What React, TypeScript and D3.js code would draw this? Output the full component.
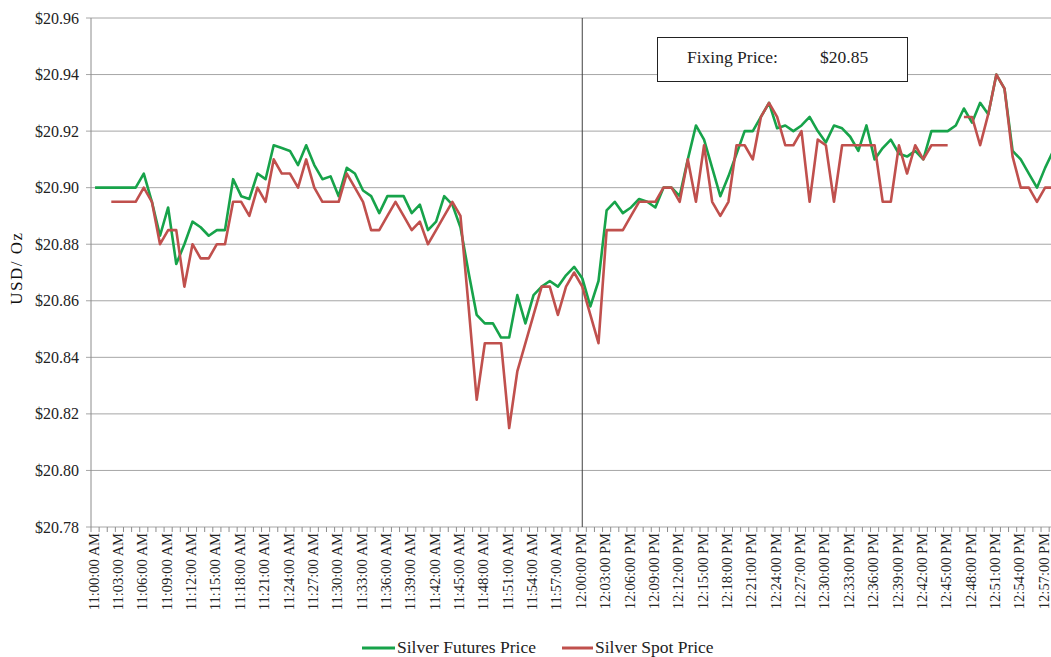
import React from "react";
import * as d3 from "d3";

// ---- Data ----
const startTime = "11:00";
const endTime = "12:58";
const tickEvery = 3;
const yTicks = [20.78, 20.8, 20.82, 20.84, 20.86, 20.88, 20.9, 20.92, 20.94, 20.96];
const fixingLabel = "Fixing Price:";
const fixingValue = "$20.85";
const seriesNames = ["Silver Futures Price", "Silver Spot Price"];

const futures: (number | null)[] = [
  20.9, 20.9, 20.9, 20.9, 20.9, 20.9, 20.905, 20.895, 20.883, 20.893,
  20.873, 20.88, 20.888, 20.886, 20.883, 20.885, 20.885, 20.903, 20.897, 20.896,
  20.905, 20.903, 20.915, 20.914, 20.913, 20.908, 20.915, 20.908, 20.903, 20.904,
  20.897, 20.907, 20.905, 20.899, 20.897, 20.891, 20.897, 20.897, 20.897, 20.891,
  20.894, 20.885, 20.888, 20.897, 20.894, 20.886, 20.87, 20.855, 20.852, 20.852,
  20.847, 20.847, 20.862, 20.852, 20.862, 20.865, 20.867, 20.865, 20.869, 20.872,
  20.868, 20.858, 20.867, 20.892, 20.895, 20.891, 20.893, 20.896, 20.895, 20.893,
  20.9, 20.9, 20.897, 20.91, 20.922, 20.917, 20.907, 20.897, 20.904, 20.912,
  20.92, 20.92, 20.925, 20.93, 20.921, 20.922, 20.92, 20.922, 20.925, 20.92,
  20.916, 20.922, 20.921, 20.918, 20.913, 20.922, 20.91, 20.914, 20.917, 20.912,
  20.911, 20.913, 20.91, 20.92, 20.92, 20.92, 20.922, 20.928, 20.923, 20.93,
  20.926, 20.94, 20.935, 20.913, 20.91, 20.905, 20.9, 20.907, 20.913,
];

const spot: (number | null)[] = [
  null, null, 20.895, 20.895, 20.895, 20.895, 20.9, 20.895, 20.88, 20.885,
  20.885, 20.865, 20.88, 20.875, 20.875, 20.88, 20.88, 20.895, 20.895, 20.89,
  20.9, 20.895, 20.91, 20.905, 20.905, 20.9, 20.91, 20.9, 20.895, 20.895,
  20.895, 20.905, 20.9, 20.895, 20.885, 20.885, 20.89, 20.895, 20.89, 20.885,
  20.888, 20.88, 20.885, 20.89, 20.895, 20.89, 20.858, 20.825, 20.845, 20.845,
  20.845, 20.815, 20.835, 20.845, 20.855, 20.865, 20.865, 20.855, 20.865, 20.87,
  20.865, 20.855, 20.845, 20.885, 20.885, 20.885, 20.89, 20.895, 20.895, 20.895,
  20.9, 20.9, 20.895, 20.91, 20.895, 20.915, 20.895, 20.89, 20.895, 20.915,
  20.915, 20.91, 20.925, 20.93, 20.925, 20.915, 20.915, 20.92, 20.895, 20.917,
  20.915, 20.895, 20.915, 20.915, 20.915, 20.915, 20.915, 20.895, 20.895, 20.915,
  20.905, 20.915, 20.91, 20.915, 20.915, 20.915, null, 20.925, 20.925, 20.915,
  20.926, 20.94, 20.935, 20.911, 20.9, 20.9, 20.895, 20.9, 20.9,
];

const colors = ["#17a34a", "#c0504d"];

// ---- Layout ----
const W = 1051;
const H = 657;
const left = 91;
const top = 18;
const bottom = 527;
const step = 8.12;
const FONT = "'Liberation Serif', 'Times New Roman', serif";

const parse = d3.timeParse("%H:%M");
const fmt = d3.timeFormat("%-I:%M:%S %p");
const times = d3.timeMinute.range(parse(startTime)!, d3.timeMinute.offset(parse(endTime)!, 1));
const categories = times.map((t) => fmt(t));

export default function App() {
  const x = d3
    .scaleBand<string>()
    .domain(categories)
    .range([left, left + categories.length * step])
    .paddingInner(0)
    .paddingOuter(0);
  const y = d3.scaleLinear().domain([20.78, 20.96]).range([bottom, top]);
  const cx = (i: number) => (x(categories[i]) as number) + x.bandwidth() / 2;
  const right = left + categories.length * step;

  const line = d3
    .line<number | null>()
    .defined((d) => d != null)
    .x((_, i) => cx(i))
    .y((d) => y(d as number));

  const noonIdx = categories.indexOf("12:00:00 PM");
  const noonX = cx(noonIdx);

  return (
    <svg
      width={W}
      height={H}
      style={{ position: "absolute", left: 0, top: 0, background: "#fff" }}
      fontFamily={FONT}
    >
      {/* gridlines + y ticks */}
      {yTicks.map((t) => (
        <g key={t}>
          <line x1={left - 5} x2={right} y1={y(t)} y2={y(t)} stroke="#a6a6a6" strokeWidth={1} />
          <text x={79} y={y(t)} dy="0.35em" textAnchor="end" fontSize={16} fill="#222">
            {d3.format("$.2f")(t)}
          </text>
        </g>
      ))}
      {/* y axis line */}
      <line x1={left} x2={left} y1={top} y2={bottom} stroke="#8c8c8c" strokeWidth={1} />
      {/* x axis minor ticks */}
      {categories.map((c, i) => (
        <line
          key={"t" + i}
          x1={x(c) as number}
          x2={x(c) as number}
          y1={bottom}
          y2={bottom + 5}
          stroke="#8c8c8c"
          strokeWidth={1}
        />
      ))}
      {/* x labels */}
      {categories.map((c, i) =>
        i % tickEvery === 0 ? (
          <text
            key={"l" + i}
            transform={`translate(${cx(i) - 1.5},${bottom + 6}) rotate(-90)`}
            textAnchor="end"
            dy="0.35em"
            fontSize={14.5}
            fill="#222"
          >
            {c}
          </text>
        ) : null
      )}
      {/* noon vertical line */}
      <line x1={noonX} x2={noonX} y1={top} y2={bottom} stroke="#404040" strokeWidth={1} />
      {/* series */}
      <path d={line(futures) || ""} fill="none" stroke={colors[0]} strokeWidth={2.6} strokeLinejoin="round" />
      <path d={line(spot) || ""} fill="none" stroke={colors[1]} strokeWidth={2.6} strokeLinejoin="round" />
      {/* fixing price box */}
      <rect x={657.5} y={37.5} width={250} height={44} fill="#fff" stroke="#222" strokeWidth={1} />
      <text x={687} y={63} fontSize={17.5} fill="#222">
        {fixingLabel}
      </text>
      <text x={820} y={63} fontSize={17.5} fill="#222">
        {fixingValue}
      </text>
      {/* y title */}
      <text
        transform={`translate(22,268) rotate(-90)`}
        textAnchor="middle"
        fontSize={17}
        letterSpacing={1.5}
        fill="#111"
      >
        USD/ Oz
      </text>
      {/* legend */}
      <line x1={362} x2={395} y1={648} y2={648} stroke={colors[0]} strokeWidth={3} />
      <text x={397} y={653} fontSize={17.5} fill="#222">
        {seriesNames[0]}
      </text>
      <line x1={562} x2={593} y1={648} y2={648} stroke={colors[1]} strokeWidth={3} />
      <text x={595} y={653} fontSize={17.5} fill="#222">
        {seriesNames[1]}
      </text>
    </svg>
  );
}
